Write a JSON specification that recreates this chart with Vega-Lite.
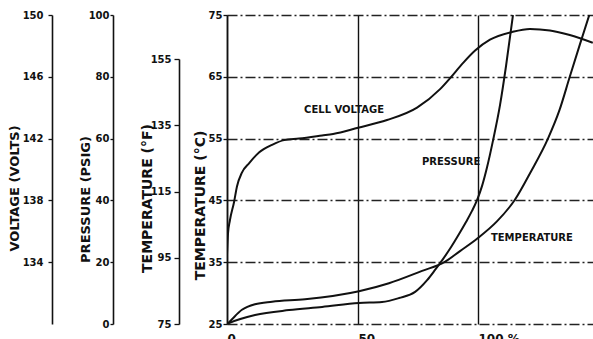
{
  "$schema": "https://vega.github.io/schema/vega-lite/v6.json",
  "width": 366,
  "height": 309,
  "autosize": {"type": "none"},
  "padding": {"left": 227, "top": 15, "right": 0, "bottom": 15},
  "background": "white",
  "config": {
    "view": {"stroke": null},
    "font": "DejaVu Sans",
    "axis": {
      "labelFont": "DejaVu Sans",
      "labelFontWeight": "bold",
      "labelFontSize": 10,
      "labelColor": "#111",
      "titleColor": "#111",
      "titleFont": "DejaVu Sans",
      "titleFontWeight": "bold",
      "domainColor": "#111",
      "tickColor": "#111",
      "domainWidth": 1.6,
      "tickWidth": 1.3
    }
  },
  "datasets": {
    "voltage": [
      {"x": 0, "v": 134.5}, {"x": 0.4, "v": 135.9}, {"x": 1.1, "v": 136.7}, {"x": 2.7, "v": 137.9},
      {"x": 3.8, "v": 138.9}, {"x": 5.7, "v": 139.8}, {"x": 8.4, "v": 140.4}, {"x": 12.2, "v": 141.1},
      {"x": 17.2, "v": 141.6}, {"x": 21.8, "v": 141.9}, {"x": 27.5, "v": 142.0}, {"x": 36.3, "v": 142.2},
      {"x": 40.5, "v": 142.3}, {"x": 50, "v": 142.7}, {"x": 62.1, "v": 143.2}, {"x": 74.6, "v": 144.0},
      {"x": 84.2, "v": 145.2}, {"x": 88.3, "v": 145.9}, {"x": 93.8, "v": 146.9}, {"x": 98.8, "v": 147.7},
      {"x": 105, "v": 148.4}, {"x": 114.2, "v": 148.9}, {"x": 121.7, "v": 149.1}, {"x": 130, "v": 149.0},
      {"x": 138.3, "v": 148.7}, {"x": 147.9, "v": 148.2}
    ],
    "pressure": [
      {"x": 0, "p": 0}, {"x": 0.8, "p": 0.3}, {"x": 10.7, "p": 2.9}, {"x": 23.7, "p": 4.5},
      {"x": 36.3, "p": 5.5}, {"x": 50.4, "p": 6.8}, {"x": 60, "p": 7.1}, {"x": 67.1, "p": 8.4},
      {"x": 73.8, "p": 10.4}, {"x": 78.8, "p": 14.2}, {"x": 82.1, "p": 17.5}, {"x": 85.4, "p": 21.0},
      {"x": 88.8, "p": 24.9}, {"x": 92.1, "p": 29.1}, {"x": 95.0, "p": 33.0}, {"x": 97.5, "p": 36.6},
      {"x": 99.6, "p": 40.1}, {"x": 101.7, "p": 44.7}, {"x": 103.8, "p": 50.8}, {"x": 106.3, "p": 59.5},
      {"x": 109.2, "p": 70.9}, {"x": 111.7, "p": 83.5}, {"x": 114.6, "p": 100.0}
    ],
    "temperature": [
      {"x": 0, "t": 25}, {"x": 0.8, "t": 25.3}, {"x": 5.7, "t": 27.3}, {"x": 10.7, "t": 28.2},
      {"x": 17.2, "t": 28.6}, {"x": 29.8, "t": 29.0}, {"x": 50.4, "t": 30.3}, {"x": 62.9, "t": 31.6},
      {"x": 76.7, "t": 33.6}, {"x": 86, "t": 35.0}, {"x": 92.5, "t": 36.8}, {"x": 99.6, "t": 38.8},
      {"x": 107.9, "t": 41.6}, {"x": 115.4, "t": 45.1}, {"x": 122, "t": 49.6}, {"x": 129.2, "t": 55.0},
      {"x": 134, "t": 59.6}, {"x": 138.3, "t": 65.0}, {"x": 142.5, "t": 70.2}, {"x": 146.7, "t": 75.3}
    ],
    "fahrenheit": [{"x": 0, "f": 75}, {"x": 0, "f": 155}],
    "labels": [
      {"x": 44.7, "y": 59.6, "text": "CELL VOLTAGE"},
      {"x": 88.8, "y": 51.2, "text": "PRESSURE"},
      {"x": 122.5, "y": 38.9, "text": "TEMPERATURE"}
    ]
  },
  "encoding": {
    "x": {
      "field": "x",
      "type": "quantitative",
      "scale": {"domain": [0, 50, 100, 148], "range": [0, 131, 251, 366], "nice": false, "zero": false},
      "axis": {
        "values": [0, 50, 100],
        "title": null,
        "domain": false,
        "ticks": false,
        "grid": true,
        "gridColor": "#111",
        "gridWidth": 1.4,
        "labelExpr": "datum.value == 100 ? '100 %' : datum.label",
        "labelFontSize": 12,
        "labelPadding": 9,
        "labelAlign": "left",
        "labelDx": -6
      }
    }
  },
  "layer": [
    {
      "data": {"name": "temperature"},
      "mark": {"type": "line", "color": "#111", "strokeWidth": 2, "interpolate": "monotone", "clip": true},
      "encoding": {
        "y": {
          "field": "t", "type": "quantitative",
          "scale": {"domain": [25, 75], "nice": false, "zero": false},
          "axis": {
            "orient": "left", "offset": 0,
            "values": [25, 35, 45, 55, 65, 75],
            "title": "TEMPERATURE (°C)", "titleFontSize": 14,
            "titleX": -27, "titleY": 190, "titleBaseline": "middle",
            "grid": true, "gridDash": [10, 3, 2, 3], "gridColor": "#222", "gridWidth": 1.3,
            "tickSize": 4, "labelPadding": 1
          }
        }
      }
    },
    {
      "data": {"name": "pressure"},
      "mark": {"type": "line", "color": "#111", "strokeWidth": 2, "interpolate": "monotone", "clip": true},
      "encoding": {
        "y": {
          "field": "p", "type": "quantitative",
          "scale": {"domain": [0, 100], "nice": false, "zero": false},
          "axis": {
            "orient": "left", "offset": 114,
            "values": [0, 20, 40, 60, 80, 100],
            "title": "PRESSURE (PSIG)", "titleFontSize": 13,
            "titleX": -28, "titleY": 184, "titleBaseline": "middle",
            "grid": false, "tickSize": 3, "labelPadding": 1
          }
        }
      }
    },
    {
      "data": {"name": "voltage"},
      "mark": {"type": "line", "color": "#111", "strokeWidth": 2, "interpolate": "monotone", "clip": true},
      "encoding": {
        "y": {
          "field": "v", "type": "quantitative",
          "scale": {"domain": [130, 150], "nice": false, "zero": false},
          "axis": {
            "orient": "left", "offset": 175,
            "values": [134, 138, 142, 146, 150],
            "title": "VOLTAGE (VOLTS)", "titleFontSize": 13,
            "titleX": -38, "titleY": 173, "titleBaseline": "middle",
            "grid": false, "tickSize": 4, "labelPadding": 5
          }
        }
      }
    },
    {
      "data": {"name": "fahrenheit"},
      "mark": {"type": "point", "opacity": 0},
      "encoding": {
        "y": {
          "field": "f", "type": "quantitative",
          "scale": {"domain": [75, 155], "range": [309, 44], "nice": false, "zero": false},
          "axis": {
            "orient": "left", "offset": 48,
            "values": [75, 95, 115, 135, 155],
            "title": "TEMPERATURE (°F)", "titleFontSize": 14,
            "titleX": -32, "titleY": 183, "titleBaseline": "middle",
            "grid": false, "tickSize": 5, "labelPadding": 3
          }
        }
      }
    },
    {
      "data": {"name": "labels"},
      "mark": {"type": "text", "font": "DejaVu Sans", "fontWeight": "bold", "fontSize": 10, "color": "#111"},
      "encoding": {
        "y": {"field": "y", "type": "quantitative", "scale": {"domain": [25, 75], "nice": false, "zero": false}, "axis": null},
        "text": {"field": "text"}
      }
    }
  ],
  "resolve": {"scale": {"y": "independent"}, "axis": {"y": "independent"}}
}
